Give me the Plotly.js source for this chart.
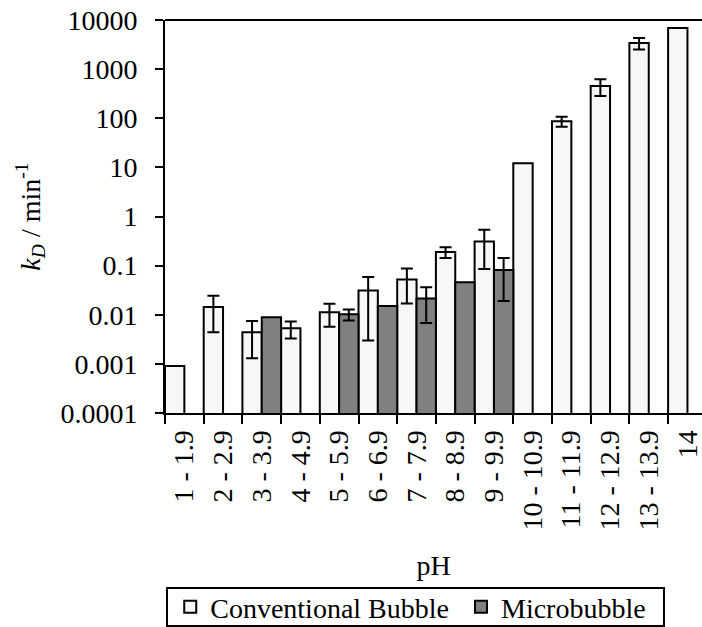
<!DOCTYPE html>
<html>
<head>
<meta charset="utf-8">
<script src="https://cdn.plot.ly/plotly-3.0.1.min.js"></script>
<style>
  html, body { margin: 0; padding: 0; background: #ffffff; }
  #chart { width: 702px; height: 627px; }
</style>
</head>
<body>
<div id="chart"></div>
<script>
// pH ranges on the category axis
const phRanges = ["1 - 1.9", "2 - 2.9", "3 - 3.9", "4 - 4.9", "5 - 5.9", "6 - 6.9", "7 - 7.9",
                  "8 - 8.9", "9 - 9.9", "10 - 10.9", "11 - 11.9", "12 - 12.9", "13 - 13.9", "14"];

// decay constant k_D (min^-1), conventional bubbles
const conventionalKd = [0.0009, 0.0144, 0.0044, 0.0053, 0.0112, 0.031, 0.052,
                        0.19, 0.31, 12.2, 87, 455, 3400, 6900];
const conventionalErr = [null, 0.010, 0.0031, 0.0020, 0.0055, 0.028, 0.035,
                         0.047, 0.225, null, 20, 170, 900, null];

// decay constant k_D (min^-1), microbubbles
const microbubbleKd = [null, null, 0.0089, null, 0.0102, 0.015, 0.0215,
                       0.046, 0.081, null, null, null, null, null];
const microbubbleErr = [null, null, null, null, 0.0026, null, 0.0147,
                        null, 0.062, null, null, null, null, null];

// logarithmic y ticks
const yTickVals = [0.0001, 0.001, 0.01, 0.1, 1, 10, 100, 1000, 10000];
const yTickText = ["0.0001", "0.001", "0.01", "0.1", "1", "10", "100", "1000", "10000"];

const FONT = "Times New Roman, Liberation Serif, serif";
const FS = 28;
const NBSP = "\u00a0";
const toErr = arr => arr.map(v => (v === null ? NaN : v));

const errStyle = { type: "data", symmetric: true, color: "#000000", thickness: 2, width: 6 };

const traces = [
  {
    type: "bar",
    // trailing no-break space widens the first legend entry
    name: "Conventional Bubble" + NBSP,
    x: phRanges,
    y: conventionalKd,
    marker: { color: "#f7f7f7", line: { color: "#000000", width: 2 } },
    error_y: Object.assign({ array: toErr(conventionalErr) }, errStyle)
  },
  {
    type: "bar",
    name: "Microbubble",
    x: phRanges,
    y: microbubbleKd,
    marker: { color: "#808080", line: { color: "#000000", width: 2 } },
    error_y: Object.assign({ array: toErr(microbubbleErr) }, errStyle)
  }
];

const layout = {
  width: 702,
  height: 627,
  margin: { l: 165, r: 0, t: 20, b: 214, pad: 0, autoexpand: false },
  paper_bgcolor: "#ffffff",
  plot_bgcolor: "#ffffff",
  font: { family: FONT, size: FS, color: "#000000" },
  barmode: "group",
  bargap: 0,
  bargroupgap: 0,
  showlegend: true,
  // legend entries without their own frame; the frame is the rectangle in shapes
  legend: {
    orientation: "h",
    xref: "container", yref: "container",
    x: 0.2425, xanchor: "left",
    y: 0.0319, yanchor: "middle",
    borderwidth: 0,
    bgcolor: "rgba(0,0,0,0)",
    font: { family: FONT, size: FS, color: "#000000" },
    traceorder: "normal"
  },
  xaxis: {
    type: "category",
    range: [-0.5, 13.376],
    tickson: "boundaries",
    ticks: "outside",
    ticklen: 9,
    tickwidth: 2,
    tickcolor: "#000000",
    ticklabelstandoff: 4,
    showline: true,
    linecolor: "#000000",
    linewidth: 2,
    showgrid: false,
    zeroline: false,
    tickangle: -90,
    tickfont: { family: FONT, size: FS },
    automargin: false,
    title: { text: "pH", font: { family: FONT, size: FS }, standoff: 26 }
  },
  yaxis: {
    type: "log",
    range: [-4, 4],
    tickmode: "array",
    tickvals: yTickVals,
    ticktext: yTickText,
    ticks: "outside",
    ticklen: 8,
    tickwidth: 2,
    tickcolor: "#000000",
    ticklabelstandoff: 12,
    showline: true,
    linecolor: "#000000",
    linewidth: 2,
    showgrid: false,
    zeroline: false,
    tickfont: { family: FONT, size: FS },
    automargin: false,
    title: {
      text: "<i>k</i><sub><i>D</i></sub> / min<sup>-1</sup>",
      font: { family: FONT, size: FS },
      standoff: 12
    }
  },
  shapes: [
    // closing line along the top of the plot
    {
      type: "line", xref: "paper", yref: "paper",
      x0: 0, x1: 1, y0: 1, y1: 1,
      line: { color: "#000000", width: 2 }
    },
    // legend frame
    {
      type: "rect", xref: "paper", yref: "paper",
      x0: 0.0037, x1: 0.9292, y0: -0.4453, y1: -0.5420,
      line: { color: "#000000", width: 2 },
      fillcolor: "rgba(0,0,0,0)"
    }
  ]
};

Plotly.newPlot("chart", traces, layout, { staticPlot: true, displayModeBar: false });
</script>
</body>
</html>
